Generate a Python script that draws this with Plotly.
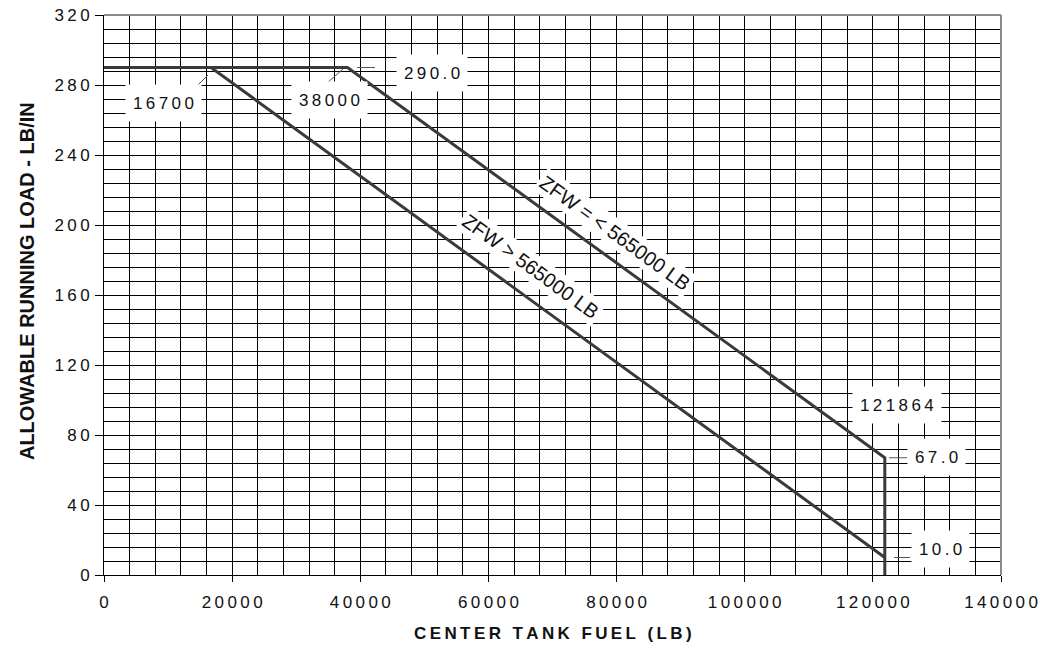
import plotly.graph_objects as go

# Allowable running load vs center tank fuel
fuel_light = [0, 38000, 121864, 121864]     # ZFW =< 565000 LB
load_light = [290, 290, 67, 0]
fuel_heavy = [0, 16700, 121864]             # ZFW > 565000 LB
load_heavy = [290, 290, 10]

x_ticks = [0, 20000, 40000, 60000, 80000, 100000, 120000, 140000]
y_ticks = [0, 40, 80, 120, 160, 200, 240, 280, 320]

FONT = "Liberation Sans, Arial, sans-serif"
LINE = "#3a3a3a"
TEXT = "#111111"
SP = "\u2009"


def spaced(s):
    # widen letter spacing with thin spaces; word gaps keep a non-breaking space
    words = str(s).split(" ")
    return (SP + "\u00a0" + SP).join(SP.join(w) for w in words)


fig = go.Figure()
fig.add_trace(go.Scatter(x=fuel_light, y=load_light, mode="lines",
                         line=dict(color=LINE, width=3), hoverinfo="skip"))
fig.add_trace(go.Scatter(x=fuel_heavy, y=load_heavy, mode="lines",
                         line=dict(color=LINE, width=3), hoverinfo="skip"))

# Leader lines from value boxes to the break points
lead = dict(color="#555555", width=1)
leaders = [
    (fuel_heavy[1] - 2185, load_heavy[1] - 10.6, fuel_heavy[1] - 470, load_heavy[1] - 4.3),
    (fuel_light[1] - 3195, load_light[1] - 8.9, fuel_light[1] - 700, load_light[1] - 0.9),
    (fuel_light[1] + 1500, load_light[1], fuel_light[1] + 4300, load_light[1]),
    (fuel_light[2] + 650, load_light[2], fuel_light[2] + 3450, load_light[2]),
    (fuel_heavy[2] + 1450, load_heavy[2], fuel_heavy[2] + 3950, load_heavy[2]),
]
for x0, y0, x1, y1 in leaders:
    fig.add_shape(type="line", x0=x0, y0=y0, x1=x1, y1=y1, xref="x", yref="y",
                  line=lead, layer="above")

box = dict(bgcolor="white", borderpad=7, height=22, showarrow=False, xref="x", yref="y",
           font=dict(family=FONT, size=17, color=TEXT))
labels = [
    (fuel_heavy[1], 9300, 269.7),
    (fuel_light[1], 35270, 271.4),
    (f"{load_light[1]:.1f}", 51200, 286.6),
    (fuel_light[2], 123840, 97.1),
    (f"{load_light[2]:.1f}", 130000, 67.7),
    (f"{load_heavy[2]:.1f}", 130480, 15.1),
]
for txt, x, y in labels:
    fig.add_annotation(text=spaced(txt), x=x, y=y, **box)

curve = dict(bgcolor="white", borderpad=2, showarrow=False, xref="x", yref="y",
             textangle=36, font=dict(family=FONT, size=20, color=TEXT))
fig.add_annotation(text="ZFW = < 565000 LB", x=79750, y=195.4, **curve)
fig.add_annotation(text="ZFW > 565000 LB", x=66490, y=176.3, **curve)

# Axis titles
fig.add_annotation(text="<b>" + spaced("CENTER TANK FUEL (LB)") + "</b>",
                   xref="paper", yref="paper", x=0.5, y=-0.1036,
                   xanchor="center", yanchor="middle", showarrow=False,
                   font=dict(family=FONT, size=17, color=TEXT))
fig.add_annotation(text="<b>ALLOWABLE RUNNING LOAD - LB/IN</b>",
                   xref="paper", yref="paper", x=-0.0858, y=0.525,
                   xanchor="center", yanchor="middle", textangle=-90, showarrow=False,
                   font=dict(family=FONT, size=20, color=TEXT))

# Frame on the top and right edges
frame = dict(color="#8a8a8a", width=2)
fig.add_shape(type="line", xref="paper", yref="paper", x0=0, x1=1, y0=1, y1=1, line=frame)
fig.add_shape(type="line", xref="paper", yref="paper", x0=1, x1=1, y0=0, y1=1, line=frame)

fig.update_layout(
    width=1041, height=648,
    margin=dict(l=104, r=40, t=15, b=73),
    paper_bgcolor="white", plot_bgcolor="white",
    showlegend=False,
    font=dict(family=FONT, size=17, color=TEXT),
    xaxis=dict(
        range=[0, 140000], tickvals=x_ticks, ticktext=[spaced(v) for v in x_ticks],
        showgrid=True, gridcolor="black", gridwidth=1,
        minor=dict(dtick=4000, showgrid=True, gridcolor="black", gridwidth=1),
        showline=True, linecolor="black", linewidth=1,
        ticks="outside", ticklen=6, tickcolor="black", ticklabelstandoff=6,
        zeroline=False, fixedrange=True, automargin=False,
    ),
    yaxis=dict(
        range=[0, 320], tickvals=y_ticks, ticktext=[spaced(v) for v in y_ticks],
        showgrid=True, gridcolor="black", gridwidth=1,
        minor=dict(dtick=8, showgrid=True, gridcolor="black", gridwidth=1),
        showline=True, linecolor="black", linewidth=1,
        ticks="outside", ticklen=8, tickcolor="black", ticklabelstandoff=2,
        zeroline=False, fixedrange=True, automargin=False,
    ),
)

fig.write_html("out.html")
